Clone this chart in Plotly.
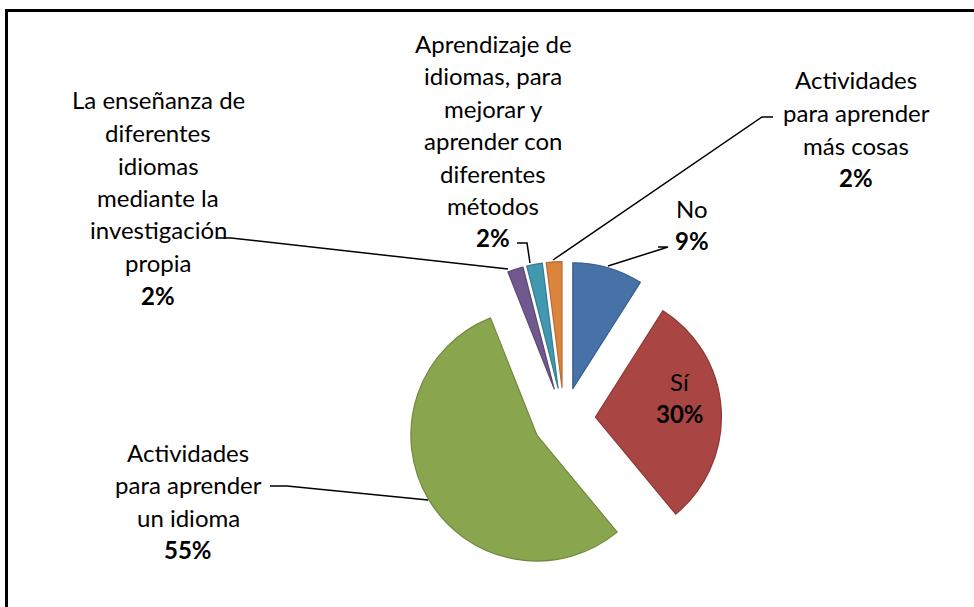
import plotly.graph_objects as go

W, H = 974, 607

categories = [
    "No",
    "Sí",
    "Actividades para aprender un idioma",
    "La enseñanza de diferentes idiomas mediante la investigación propia",
    "Aprendizaje de idiomas, para mejorar y aprender con diferentes métodos",
    "Actividades para aprender más cosas",
]
percent = [9, 30, 55, 2, 2, 2]
label_lines = [
    ["No"],
    ["Sí"],
    ["Actividades", "para aprender", "un idioma"],
    ["La enseñanza de", "diferentes", "idiomas", "mediante la", "investigación", "propia"],
    ["Aprendizaje de", "idiomas, para", "mejorar y", "aprender con", "diferentes", "métodos"],
    ["Actividades", "para aprender", "más cosas"],
]
fill_colors = ["#4672A8", "#A94643", "#89A54E", "#71588F", "#4198AF", "#DB843D"]
edge_colors = ["#385D8A", "#8C3836", "#71893F", "#5C4776", "#357D91", "#B66D31"]

# label placement (pixel centre x, centre y of first line)
label_pos = [(692, 208), (680, 381), (188, 452), (158, 100), (493, 43), (856, 80)]
line_gap = 32.5

leaders = [
    [(658, 247), (668, 247), (608, 266)],
    None,
    [(270, 486), (287, 486), (428, 500)],
    [(218, 238), (231, 238), (508, 269)],
    [(517, 243), (527, 243), (530, 263)],
    [(773, 117), (762, 117), (553, 260)],
]


def px(x):
    return x / W


def py(y):
    return 1 - y / H


FONT = "Lato, Calibri, sans-serif"

fig = go.Figure(go.Pie(
    labels=categories,
    values=percent,
    sort=False,
    direction="clockwise",
    rotation=0,
    pull=0.25,
    textinfo="none",
    hoverinfo="label+percent",
    marker=dict(colors=fill_colors, line=dict(color=edge_colors, width=1.2)),
    domain=dict(x=[px(564 - 157.5), px(564 + 157.5)], y=[py(419 + 157.5), py(419 - 157.5)]),
    showlegend=False,
))

annotations = []
for lines, pct, (cx, cy) in zip(label_lines, percent, label_pos):
    rows = lines + [f"<b>{pct}%</b>"]
    for i, t in enumerate(rows):
        annotations.append(dict(
            x=px(cx), y=py(cy + i * line_gap), xref="paper", yref="paper",
            text=t, showarrow=False, xanchor="center", yanchor="middle",
            font=dict(family=FONT, size=24, color="#000000"),
        ))

shapes = []
for pts in leaders:
    if pts is None:
        continue
    path = "M " + " L ".join(f"{px(x)},{py(y)}" for x, y in pts)
    shapes.append(dict(type="path", path=path, xref="paper", yref="paper",
                       line=dict(color="#000000", width=1.5)))

# outer frame (top and left edges visible)
shapes.append(dict(type="line", xref="paper", yref="paper",
                   x0=px(6), y0=py(10.5), x1=px(980), y1=py(10.5),
                   line=dict(color="#000000", width=3)))
shapes.append(dict(type="line", xref="paper", yref="paper",
                   x0=px(6.5), y0=py(9), x1=px(6.5), y1=py(620),
                   line=dict(color="#000000", width=3)))

fig.update_layout(
    width=W, height=H,
    margin=dict(l=0, r=0, t=0, b=0),
    paper_bgcolor="white",
    plot_bgcolor="white",
    annotations=annotations,
    shapes=shapes,
)

fig.write_html("out.html", config={"displayModeBar": False},
               post_script="document.body.style.margin='0';")
